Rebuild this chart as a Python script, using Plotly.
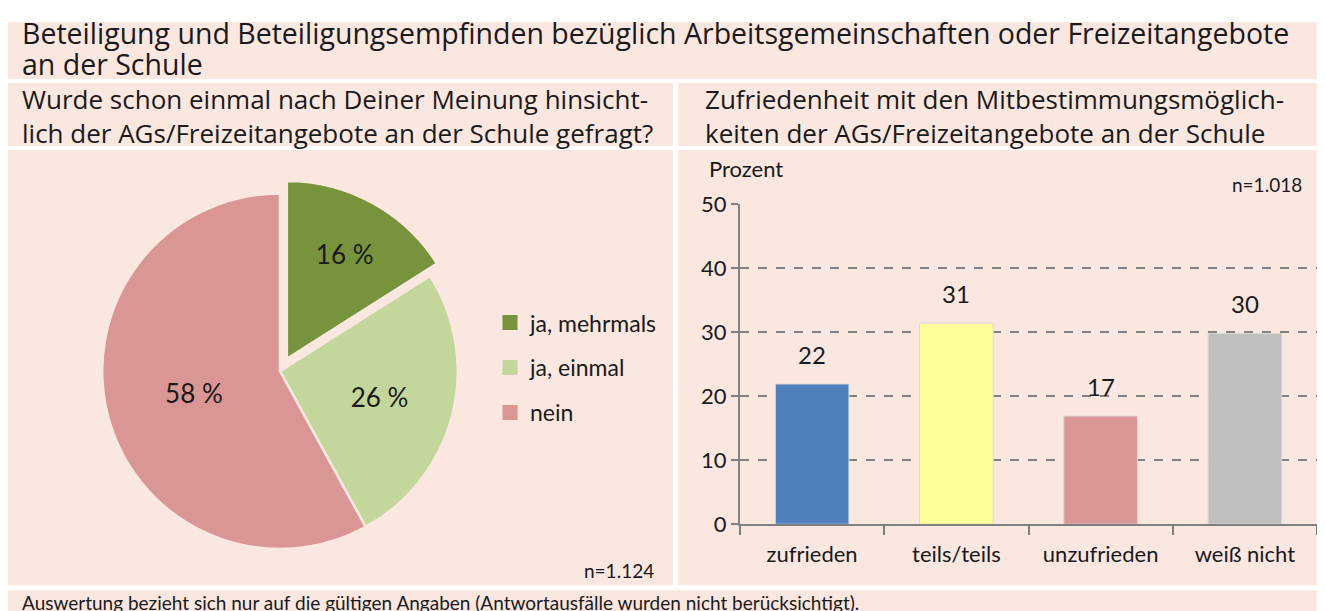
import plotly.graph_objects as go

# pie data
pie_labels = ["ja, mehrmals", "ja, einmal", "nein"]
pie_values = [16, 26, 58]
pie_colors = ["#77933c", "#c3d69b", "#d99694"]

# bar data
bar_categories = ["zufrieden", "teils/teils", "unzufrieden", "weiß nicht"]
bar_values = [21.9, 31.4, 16.9, 29.8]
bar_text = ["22", "31", "17", "30"]
bar_colors = ["#4f81bd", "#ffff99", "#d99694", "#bfbfbf"]

W, H = 1309, 620
OFF = 8
# the photographed page comes out squeezed vertically and shifted, compensate
Y_SCALE, Y_EXTRA = 0.956, 23
BOX = "#f9e7e0"
INK = "#1a1a1a"
BODY = "Lato"
TITLE_FONT = "Open Sans"


def px(x):
    return min(max((x - OFF) / W, 0), 1)


def py(y):
    return min(max(1 - (y / Y_SCALE - Y_EXTRA) / H, 0), 1)


def box(x0, y0, x1, y1):
    return dict(type="rect", xref="paper", yref="paper", x0=px(x0), x1=px(x1),
                y0=py(y1), y1=py(y0), fillcolor=BOX, line=dict(width=0), layer="below")


fig = go.Figure()

fig.add_trace(go.Pie(
    labels=pie_labels,
    values=pie_values,
    sort=False,
    direction="clockwise",
    rotation=0,
    pull=[0.08, 0, 0],
    marker=dict(colors=pie_colors, line=dict(color=BOX, width=2.5)),
    texttemplate="%{value} %",
    textinfo="text",
    textposition="inside",
    insidetextorientation="horizontal",
    textfont=dict(family=BODY, size=26, color=INK),
    domain=dict(x=[px(88), px(472)], y=[py(563), py(179)]),
    hoverinfo="label+percent",
    showlegend=False,
))

fig.add_trace(go.Bar(
    x=bar_categories,
    y=bar_values,
    marker=dict(color=bar_colors, line=dict(color="#d9d9d9", width=1)),
    width=0.51,
    showlegend=False,
    xaxis="x",
    yaxis="y",
))

# value labels sitting above the bars
for cat, val, txt in zip(bar_categories, bar_values, bar_text):
    fig.add_annotation(x=cat, y=val, xref="x", yref="y", text=txt, showarrow=False,
                       yanchor="bottom", yshift=13,
                       font=dict(family=BODY, size=24, color=INK))

# legend entries for the pie slices (separate groups so the gap can be set)
for lab, col in zip(pie_labels, pie_colors):
    fig.add_trace(go.Scatter(
        x=[None], y=[None], mode="markers", name=lab, legendgroup=lab,
        marker=dict(symbol="square", size=15, color=col),
        xaxis="x", yaxis="y",
    ))

fig.update_layout(
    width=W,
    height=H,
    margin=dict(l=0, r=0, t=0, b=0),
    paper_bgcolor="white",
    plot_bgcolor="white",
    font=dict(family=BODY, color=INK),
    showlegend=True,
    legend=dict(
        x=px(490), y=py(301), xanchor="left", yanchor="top",
        bgcolor="rgba(0,0,0,0)", font=dict(family=BODY, size=23, color=INK),
        tracegroupgap=12, itemclick=False, itemdoubleclick=False,
    ),
    xaxis=dict(
        type="category",
        categoryorder="array", categoryarray=bar_categories,
        domain=[px(740), px(1317)],
        showline=True, linecolor="#808080", linewidth=2,
        ticks="outside", tickson="boundaries", ticklen=9, tickcolor="#808080", tickwidth=2,
        ticklabelstandoff=9,
        tickfont=dict(family=BODY, size=22, color=INK),
        showgrid=False,
        anchor="y",
    ),
    yaxis=dict(
        domain=[py(524), py(204)],
        range=[0, 50],
        dtick=10,
        showline=True, linecolor="#808080", linewidth=2,
        ticks="outside", ticklen=7, tickcolor="#808080", tickwidth=2,
        tickfont=dict(family=BODY, size=22, color=INK),
        showgrid=True, gridcolor="#808080", gridwidth=1.5, griddash="dash",
        zeroline=False,
        anchor="x",
    ),
    shapes=[
        box(5, 10, 1325, 79),
        box(5, 83, 673, 146),
        box(678, 83, 1325, 146),
        box(5, 150, 673, 585),
        box(678, 150, 1325, 585),
        box(5, 590, 1325, 640),
    ],
)

annotations = [
    dict(text="Beteiligung und Beteiligungsempfinden bezüglich Arbeitsgemeinschaften oder Freizeitangebote",
         x=px(20), y=py(33), xanchor="left", yanchor="middle",
         font=dict(family=TITLE_FONT, size=28.5, color=INK)),
    dict(text="an der Schule",
         x=px(20), y=py(64), xanchor="left", yanchor="middle",
         font=dict(family=TITLE_FONT, size=28.5, color=INK)),
    dict(text="Wurde schon einmal nach Deiner Meinung hinsicht-<br>lich der AGs/Freizeitangebote an der Schule gefragt?",
         x=px(20), y=py(116), xanchor="left", yanchor="middle", align="left",
         font=dict(family=TITLE_FONT, size=26, color=INK)),
    dict(text="Zufriedenheit mit den Mitbestimmungsmöglich-<br>keiten der AGs/Freizeitangebote an der Schule",
         x=px(703), y=py(116), xanchor="left", yanchor="middle", align="left",
         font=dict(family=TITLE_FONT, size=26, color=INK)),
    dict(text="Prozent", x=px(707), y=py(168), xanchor="left", yanchor="middle",
         font=dict(family=BODY, size=22, color=INK)),
    dict(text="n=1.018", x=px(1304), y=py(184), xanchor="right", yanchor="middle",
         font=dict(family=BODY, size=19, color=INK)),
    dict(text="n=1.124", x=px(656), y=py(570), xanchor="right", yanchor="middle",
         font=dict(family=BODY, size=19, color=INK)),
    dict(text="Auswertung bezieht sich nur auf die gültigen Angaben (Antwortausfälle wurden nicht berücksichtigt).",
         x=px(20), y=py(602), xanchor="left", yanchor="middle",
         font=dict(family=BODY, size=19, color=INK)),
]
for a in annotations:
    fig.add_annotation(xref="paper", yref="paper", showarrow=False, **a)

fig.write_html("out.html")
